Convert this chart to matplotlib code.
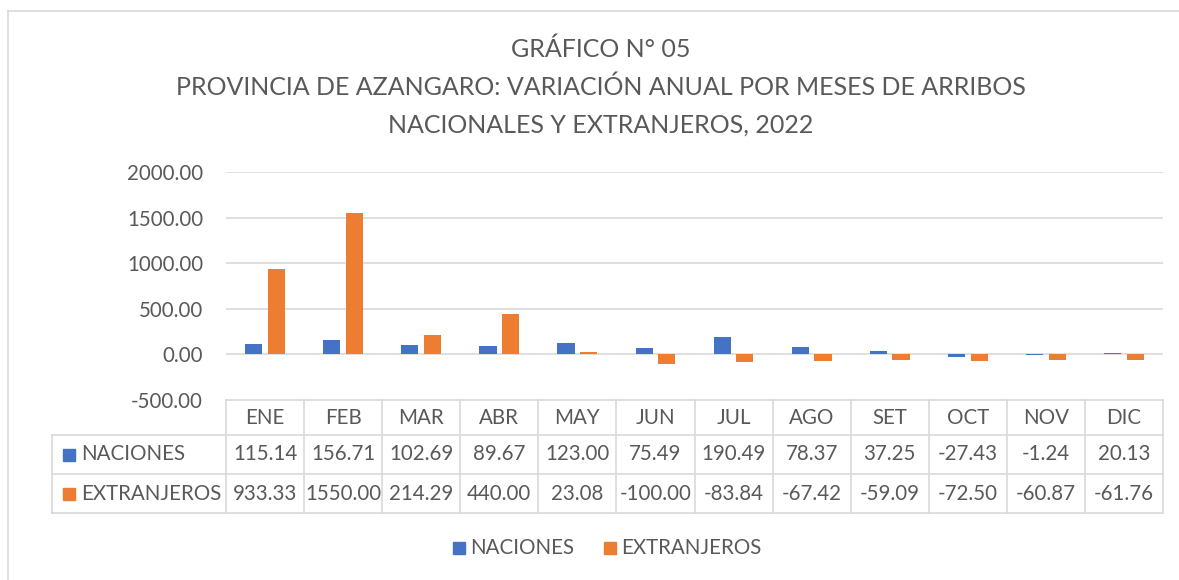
import matplotlib.pyplot as plt
from matplotlib.lines import Line2D
from matplotlib.patches import Rectangle
import numpy as np

meses = ['ENE', 'FEB', 'MAR', 'ABR', 'MAY', 'JUN', 'JUL', 'AGO', 'SET', 'OCT', 'NOV', 'DIC']
naciones = [115.14, 156.71, 102.69, 89.67, 123.00, 75.49, 190.49, 78.37, 37.25, -27.43, -1.24, 20.13]
extranjeros = [933.33, 1550.00, 214.29, 440.00, 23.08, -100.00, -83.84, -67.42, -59.09, -72.50, -60.87, -61.76]
series = [('NACIONES', naciones), ('EXTRANJEROS', extranjeros)]
yticks = [-500, 0, 500, 1000, 1500, 2000]

AZUL = '#4472C4'
NARANJA = '#ED7D31'
TXT = '#595959'
GRID = '#D9D9D9'
FONT = 'Lato'
FS = 14.8

W, H = 1179, 580
plt.rcParams['font.family'] = [FONT, 'DejaVu Sans']


def fx(px):
    return px / W


def fy(py):
    return 1 - py / H


fig = plt.figure(figsize=(W / 100, H / 100), dpi=100)

# marco del grafico
fig.add_artist(Line2D([fx(8), fx(8)], [fy(11), fy(600)], color=GRID, lw=1.2))
fig.add_artist(Line2D([fx(8), fx(1200)], [fy(11), fy(11)], color=GRID, lw=1.2))

# titulo
titulo = ['GRÁFICO N° 05',
          'PROVINCIA DE AZANGARO: VARIACIÓN ANUAL POR MESES DE ARRIBOS',
          'NACIONALES Y EXTRANJEROS, 2022']
for i, t in enumerate(titulo):
    fig.text(fx(601), fy(49 + 38 * i), t, ha='center', va='center', fontsize=18, color=TXT)

left, right, top, bottom = 226, 1163, 172, 400
ax = fig.add_axes([fx(left), fy(bottom), fx(right - left), fy(top) - fy(bottom)])
x = np.arange(len(meses))
w = 0.22
ax.bar(x - 0.145, naciones, w, color=AZUL, zorder=3)
ax.bar(x + 0.145, extranjeros, w, color=NARANJA, zorder=3)
ax.set_xlim(-0.5, len(meses) - 0.5)
ax.set_ylim(-500, 2000)
ax.set_yticks(yticks)
ax.set_yticklabels(['{:.2f}'.format(v) for v in yticks], fontsize=FS, color=TXT)
ax.tick_params(axis='y', length=0, pad=16.5)
ax.set_xticks([])
for s in ax.spines.values():
    s.set_visible(False)
for v in yticks[1:]:
    ax.axhline(v, color=GRID, lw=1.2, zorder=1)

# tabla de datos
col_w = (right - left) / len(meses)
rows = [400, 435, 474, 513]
tab_left = 52
fig.add_artist(Line2D([fx(left), fx(right)], [fy(rows[0])] * 2, color=GRID, lw=1.2))
for r in rows[1:]:
    fig.add_artist(Line2D([fx(tab_left), fx(right)], [fy(r)] * 2, color=GRID, lw=1.2))
fig.add_artist(Line2D([fx(tab_left)] * 2, [fy(rows[1]), fy(rows[3])], color=GRID, lw=1.2))
for k in range(len(meses) + 1):
    xc = left + k * col_w
    fig.add_artist(Line2D([fx(xc)] * 2, [fy(rows[0]), fy(rows[3])], color=GRID, lw=1.2))

for k, m in enumerate(meses):
    xc = left + (k + 0.5) * col_w
    fig.text(fx(xc), fy((rows[0] + rows[1]) / 2), m, ha='center', va='center',
             fontsize=FS, color=TXT)
    for j, (name, vals) in enumerate(series):
        fig.text(fx(xc), fy((rows[j + 1] + rows[j + 2]) / 2), '{:.2f}'.format(vals[k]),
                 ha='center', va='center', fontsize=FS, color=TXT)

for j, (name, vals) in enumerate(series):
    yc = (rows[j + 1] + rows[j + 2]) / 2
    col = AZUL if j == 0 else NARANJA
    fig.add_artist(Rectangle((fx(63), fy(yc + 6)), fx(12), fy(yc - 6) - fy(yc + 6), color=col))
    fig.text(fx(81), fy(yc), name, ha='left', va='center', fontsize=FS, color=TXT)

# leyenda
for (name, vals), sx, col in zip(series, [453, 604], [AZUL, NARANJA]):
    fig.add_artist(Rectangle((fx(sx), fy(554)), fx(12), fy(542) - fy(554), color=col))
    fig.text(fx(sx + 17), fy(548), name, ha='left', va='center', fontsize=FS, color=TXT)

plt.savefig('out.png', dpi=100)
